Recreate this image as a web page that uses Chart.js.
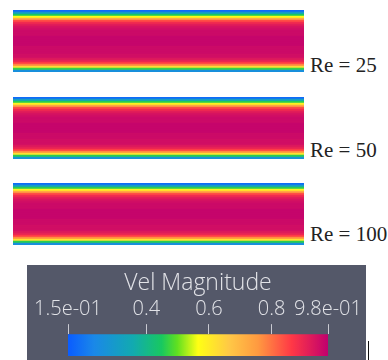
<!DOCTYPE html>
<html>
<head>
<meta charset="utf-8">
<script src="https://cdn.jsdelivr.net/npm/chart.js@4/dist/chart.umd.min.js"></script>
<style>
  body { margin: 0; background: #fff; width: 388px; height: 360px; overflow: hidden; position: relative; }
  canvas { position: absolute; }
  .re { position: absolute; left: 310px; font-family: "Liberation Serif", serif; font-size: 21px; font-weight: normal; color: #222; line-height: 20px; white-space: nowrap; }
  #legendBox { position: absolute; left: 27px; top: 265px; width: 339px; height: 95px; background: #545869; }
  #mark { position: absolute; left: 368px; top: 341px; width: 1px; height: 19px; background: #111; }
</style>
</head>
<body>
<canvas id="panel25" style="left:13px;top:10px"></canvas>
<canvas id="panel50" style="left:13px;top:97px"></canvas>
<canvas id="panel100" style="left:13px;top:183px"></canvas>
<div class="re" style="top:55px">Re = 25</div>
<div class="re" style="top:140px">Re = 50</div>
<div class="re" style="top:224px">Re = 100</div>
<div id="legendBox"><canvas id="colorbar" style="left:0;top:0"></canvas></div>
<div id="mark"></div>
<script>
// velocity magnitude across the channel, wall (top) to wall (bottom)
const reLabels = ['Re = 25', 'Re = 50', 'Re = 100'];
const profileRe25 = [0.18, 0.30, 0.45, 0.57, 0.72, 0.84, 0.89, 0.92, 0.94, 0.95, 0.96, 0.96, 0.96, 0.97, 0.97, 0.97,
                     0.97, 0.97, 0.96, 0.96, 0.96, 0.96, 0.95, 0.95, 0.93, 0.91, 0.86, 0.78, 0.63, 0.47, 0.26];
const profileRe50 = [0.18, 0.31, 0.46, 0.59, 0.73, 0.84, 0.89, 0.92, 0.94, 0.95, 0.96, 0.96, 0.96, 0.97, 0.97, 0.97,
                     0.97, 0.97, 0.96, 0.96, 0.96, 0.95, 0.95, 0.95, 0.93, 0.91, 0.86, 0.77, 0.62, 0.46, 0.27];
const profileRe100 = [0.18, 0.31, 0.46, 0.59, 0.73, 0.84, 0.89, 0.92, 0.94, 0.95, 0.96, 0.96, 0.96, 0.97, 0.97, 0.97,
                      0.97, 0.97, 0.96, 0.96, 0.96, 0.95, 0.95, 0.95, 0.93, 0.91, 0.86, 0.77, 0.62, 0.46, 0.26];
const channelLength = 1;

// colour bar
const velMin = 0.15, velMax = 0.98;
const tickValues = [0.15, 0.4, 0.6, 0.8, 0.98];
const tickLabels = ['1.5e-01', '0.4', '0.6', '0.8', '9.8e-01'];
const cmapStops = [
  [0.00, '#0a5cff'], [0.10, '#1a88e8'], [0.25, '#12aab0'], [0.36, '#18c860'], [0.42, '#60e020'],
  [0.50, '#ffff14'], [0.62, '#ffc846'], [0.73, '#ff9a40'], [0.86, '#ff3846'], [1.00, '#c0006e']
];

function hexToRgb(h) {
  return [parseInt(h.substr(1, 2), 16), parseInt(h.substr(3, 2), 16), parseInt(h.substr(5, 2), 16)];
}

function colorFor(v) {
  let f = (v - velMin) / (velMax - velMin);
  f = Math.max(0, Math.min(1, f));
  for (let i = 1; i < cmapStops.length; i++) {
    if (f <= cmapStops[i][0]) {
      const a = cmapStops[i - 1], b = cmapStops[i];
      const t = (f - a[0]) / (b[0] - a[0]);
      const ca = hexToRgb(a[1]), cb = hexToRgb(b[1]);
      const c = ca.map((x, k) => Math.round(x + (cb[k] - x) * t));
      return `rgb(${c[0]},${c[1]},${c[2]})`;
    }
  }
  return cmapStops[cmapStops.length - 1][1];
}

function drawPanel(id, profile) {
  const cv = document.getElementById(id);
  cv.width = 291; cv.height = 62;
  new Chart(cv, {
    type: 'bar',
    data: {
      labels: profile.map((_, i) => i),
      datasets: [{
        data: profile.map(() => channelLength),
        backgroundColor: profile.map(v => colorFor(v)),
        borderWidth: 0,
        barPercentage: 1,
        categoryPercentage: 1
      }]
    },
    options: {
      indexAxis: 'y',
      responsive: false,
      animation: false,
      layout: { padding: 0 },
      plugins: { legend: { display: false }, tooltip: { enabled: false } },
      scales: {
        x: { display: false, min: 0, max: channelLength },
        y: { display: false }
      }
    }
  });
}

drawPanel('panel25', profileRe25);
drawPanel('panel50', profileRe50);
drawPanel('panel100', profileRe100);

const cb = document.getElementById('colorbar');
cb.width = 339; cb.height = 95;
const tickFont = { family: '"Open Sans", "DejaVu Sans", sans-serif', size: 20, weight: 300, lineHeight: 1.2 };
const titleFont = { family: '"Open Sans", "DejaVu Sans", sans-serif', size: 23, weight: 300, lineHeight: 1.05 };
new Chart(cb, {
  type: 'bar',
  data: {
    labels: ['Vel Magnitude'],
    datasets: [{
      data: [[velMin, velMax]],
      borderWidth: 0,
      barPercentage: 1,
      categoryPercentage: 1,
      backgroundColor: function (context) {
        const chart = context.chart;
        if (!chart.chartArea) return '#888';
        const x = chart.scales.x;
        const g = chart.ctx.createLinearGradient(x.getPixelForValue(velMin), 0, x.getPixelForValue(velMax), 0);
        cmapStops.forEach(s => g.addColorStop(s[0], s[1]));
        return g;
      }
    }]
  },
  options: {
    indexAxis: 'y',
    responsive: false,
    animation: false,
    layout: { padding: { left: 41, right: 38, top: 0, bottom: 4 } },
    plugins: {
      legend: { display: false },
      tooltip: { enabled: false },
      title: { display: true, text: 'Vel Magnitude', color: '#e2e3e8', font: titleFont, padding: { top: 6, bottom: 3 } }
    },
    scales: {
      x: {
        type: 'linear',
        position: 'top',
        min: velMin,
        max: velMax,
        afterBuildTicks: function (axis) {
          axis.ticks = tickValues.map(v => ({ value: v }));
        },
        afterFit: function (axis) {
          axis.height = 36;
        },
        ticks: {
          color: '#e2e3e8',
          font: tickFont,
          padding: 3,
          maxRotation: 0,
          autoSkip: false,
          callback: function (value) {
            const i = tickValues.indexOf(value);
            return i >= 0 ? tickLabels[i] : '';
          }
        },
        grid: { drawOnChartArea: false, drawTicks: true, tickLength: 10, color: '#c9cad2', lineWidth: 1 },
        border: { display: false }
      },
      y: { display: false }
    }
  }
});
</script>
</body>
</html>
